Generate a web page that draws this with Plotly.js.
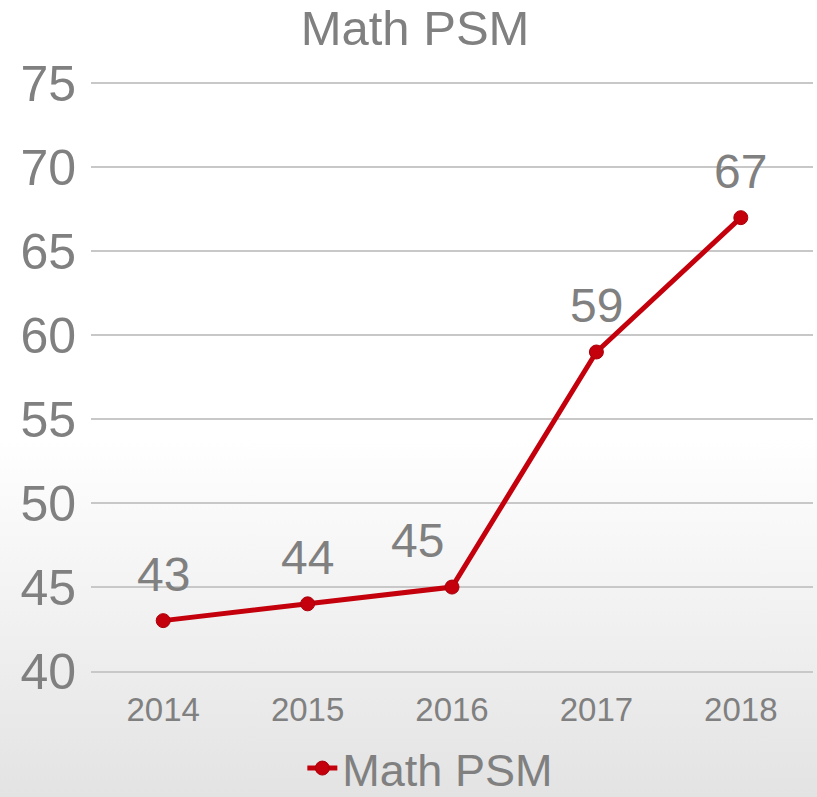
<!DOCTYPE html>
<html>
<head>
<meta charset="utf-8">
<script src="https://cdn.plot.ly/plotly-3.0.1.min.js"></script>
<style>
  html, body { margin: 0; padding: 0; }
  #chart { width: 817px; height: 797px;
    background: linear-gradient(to bottom, #ffffff 0%, #ffffff 55%, #e3e3e3 100%); }
</style>
</head>
<body>
<div id="chart"></div>
<script>
const years = ['2014', '2015', '2016', '2017', '2018'];
const values = [43, 44, 45, 59, 67];
const seriesName = 'Math PSM';
const yTicks = [40, 45, 50, 55, 60, 65, 70, 75];

const gray = '#808080';
const red = '#c4000c';
const font = 'Liberation Sans, Arial, sans-serif';

const xs = years.map((_, i) => i);

const trace = {
  x: xs, y: values, type: 'scatter', mode: 'lines+markers', name: seriesName,
  line: { color: red, width: 5 },
  marker: { color: red, size: 14, line: { color: '#a8000a', width: 1 } },
  hoverinfo: 'skip', cliponaxis: false
};

const annotations = values.map((v, i) => ({
  x: xs[i], y: v, xref: 'x', yref: 'y', text: String(v), showarrow: false,
  xanchor: i === 2 ? 'right' : 'center', yanchor: 'bottom',
  xshift: i === 2 ? -6 : 0, yshift: 18,
  font: { family: font, size: 48, color: gray }
}));

const layout = {
  width: 817, height: 797,
  paper_bgcolor: 'rgba(0,0,0,0)', plot_bgcolor: 'rgba(0,0,0,0)',
  margin: { l: 91, r: 4, t: 82, b: 126, autoexpand: false },
  title: { text: seriesName, x: 0.508, xref: 'container', xanchor: 'center', y: 0.965, yref: 'container', yanchor: 'middle',
    font: { family: font, size: 49, color: gray } },
  xaxis: {
    tickmode: 'array', tickvals: xs, ticktext: years,
    range: [-0.5, 4.5], showgrid: false, zeroline: false,
    showline: true, linecolor: '#c8c8c8', linewidth: 2,
    tickfont: { family: font, size: 33, color: gray },
    ticks: 'outside', ticklen: 8, tickcolor: 'rgba(0,0,0,0)'
  },
  yaxis: {
    range: [40, 75.08], tickmode: 'array', tickvals: yTicks,
    showgrid: true, gridcolor: '#c8c8c8', gridwidth: 2, zeroline: false,
    tickfont: { family: font, size: 50, color: gray },
    ticks: 'outside', ticklen: 4, tickcolor: 'rgba(0,0,0,0)'
  },
  showlegend: true,
  legend: { orientation: 'h', x: 0.47, xanchor: 'center', y: 0.036, yref: 'container', yanchor: 'middle',
    font: { family: font, size: 45, color: gray }, bgcolor: 'rgba(0,0,0,0)' },
  annotations: annotations
};

Plotly.newPlot('chart', [trace], layout, { displayModeBar: false, staticPlot: true });
</script>
</body>
</html>
